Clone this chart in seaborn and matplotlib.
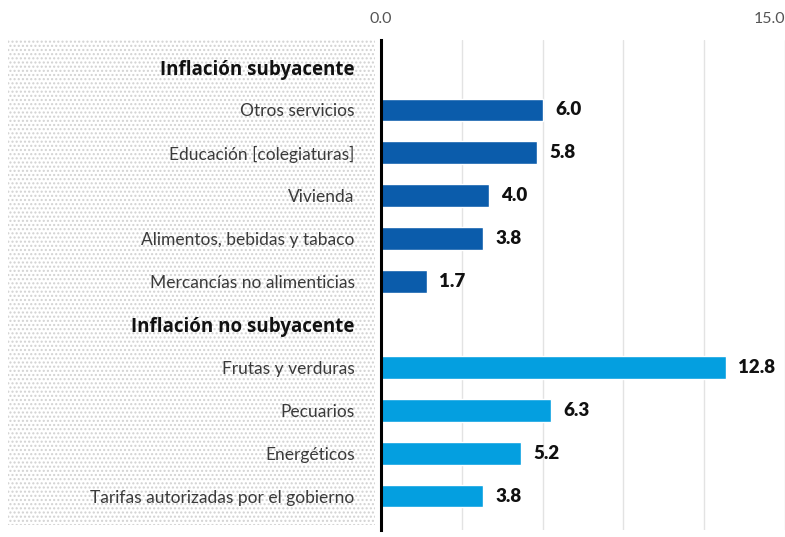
import numpy as np
import pandas as pd
import matplotlib.pyplot as plt
import seaborn as sns
from matplotlib.patches import Rectangle

# rows in display order (headers carry no bar)
rows = ["Inflación subyacente", "Otros servicios", "Educación [colegiaturas]", "Vivienda",
        "Alimentos, bebidas y tabaco", "Mercancías no alimenticias",
        "Inflación no subyacente", "Frutas y verduras", "Pecuarios", "Energéticos",
        "Tarifas autorizadas por el gobierno"]
headers = ["Inflación subyacente", "Inflación no subyacente"]

core_items = ["Otros servicios", "Educación [colegiaturas]", "Vivienda",
              "Alimentos, bebidas y tabaco", "Mercancías no alimenticias"]
core_values = [6.0, 5.8, 4.0, 3.8, 1.7]
noncore_items = ["Frutas y verduras", "Pecuarios", "Energéticos",
                 "Tarifas autorizadas por el gobierno"]
noncore_values = [12.8, 6.3, 5.2, 3.8]

def main():
    df = pd.DataFrame({
        "item": core_items + noncore_items,
        "value": core_values + noncore_values,
        "group": ["sub"] * len(core_items) + ["nosub"] * len(noncore_items),
    })

    sns.set_style("white")
    plt.rcParams['font.family'] = ['Lato', 'DejaVu Sans']

    fig = plt.figure(figsize=(7.85, 5.37), dpi=100)

    # dotted panel behind the labels
    panel = Rectangle((8 / 785, 1 - 525 / 537), (375 - 8) / 785, (525 - 40) / 537,
                      transform=fig.transFigure, facecolor='white', edgecolor='#d2d2d2',
                      hatch='....', linewidth=0, zorder=-1)
    fig.patches.append(panel)

    ax = fig.add_axes([381 / 785, 1 - 530 / 537, 404 / 785, 490 / 537])
    ax.patch.set_alpha(0)

    sns.barplot(df, x='value', y='item', hue='group', order=rows,
                palette={"sub": "#0b5cab", "nosub": "#049fe0"},
                dodge=False, width=0.53, legend=False, saturation=1, ax=ax)

    for cont in ax.containers:
        labels = ["" if np.isnan(v) else f"{v:.1f}" for v in cont.datavalues]
        ax.bar_label(cont, labels=labels, padding=9, fontsize=13.5, fontweight='heavy', color='#111111')

    ax.set_xlim(0, 15)
    ax.set_ylim(10.79, -0.63)
    ax.set_xlabel("")
    ax.set_ylabel("")

    ax.xaxis.tick_top()
    ax.set_xticks([0, 3, 6, 9, 12, 15])
    ax.set_xticklabels(["0.0", "", "", "", "", "15.0"], fontsize=11.5, color='#555555')
    ax.get_xticklabels()[-1].set_horizontalalignment('right')
    ax.tick_params(axis='x', length=0, pad=10)
    ax.grid(True, axis='x', color='#e3e3e3', linewidth=1)
    ax.set_axisbelow(True)

    ax.set_yticks(range(len(rows)))
    ax.set_yticklabels(rows)
    for lbl in ax.get_yticklabels():
        if lbl.get_text() in headers:
            lbl.set_family(['Open Sans', 'DejaVu Sans'])
            lbl.set_fontsize(13.5)
            lbl.set_fontweight('bold')
            lbl.set_color('#111111')
        else:
            lbl.set_fontsize(12.5)
            lbl.set_fontweight('normal')
            lbl.set_color('#3a3a3a')
    ax.tick_params(axis='y', length=0, pad=19)

    for s in ['top', 'right', 'bottom']:
        ax.spines[s].set_visible(False)
    ax.spines['left'].set_color('black')
    ax.spines['left'].set_linewidth(2.2)
    ax.spines['left'].set_zorder(5)

    plt.savefig("out.png", dpi=100)
    plt.close()


if __name__ == "__main__":
    main()
